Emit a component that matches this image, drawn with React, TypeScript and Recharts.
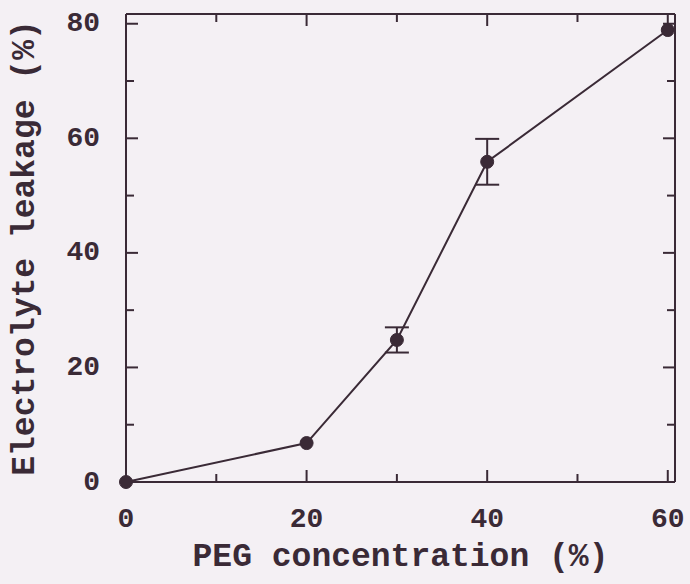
import { ComposedChart, Line, XAxis, YAxis, ErrorBar } from 'recharts';

const pegConcentration = [0, 20, 30, 40, 60];
const leakage = [0, 6.8, 24.8, 55.9, 78.9];
const leakageError = [0, 0, 2.2, 4, 0];

const xMajorTicks = [0, 20, 40, 60];
const xAllTicks = [0, 10, 20, 30, 40, 50, 60];
const yMajorTicks = [0, 20, 40, 60, 80];
const yAllTicks = [0, 10, 20, 30, 40, 50, 60, 70, 80];

const data = pegConcentration.map((x, i) => ({ x, y: leakage[i], err: leakageError[i] }));

const INK = '#3a2a36';
const FONT = '"Liberation Mono", "DejaVu Sans Mono", monospace';

function BottomTick({ x, y, payload }: any) {
  const major = xMajorTicks.includes(payload.value);
  return (
    <g>
      <line x1={x} x2={x} y1={y} y2={y - (major ? 12 : 8)} stroke={INK} strokeWidth={2} />
      {major && (
        <text x={x} y={y + 45} textAnchor="middle" fill={INK} fontFamily={FONT} fontWeight="bold" fontSize={28}>
          {payload.value}
        </text>
      )}
    </g>
  );
}

function TopTick({ x, y, payload }: any) {
  const major = xMajorTicks.includes(payload.value);
  return <line x1={x} x2={x} y1={y} y2={y + (major ? 12 : 8)} stroke={INK} strokeWidth={2} />;
}

function LeftTick({ x, y, payload }: any) {
  const major = yMajorTicks.includes(payload.value);
  return (
    <g>
      <line x1={x} x2={x + (major ? 12 : 8)} y1={y} y2={y} stroke={INK} strokeWidth={2} />
      {major && (
        <text x={x - 26} y={y} textAnchor="end" dominantBaseline="central" fill={INK} fontFamily={FONT} fontWeight="bold" fontSize={28}>
          {payload.value}
        </text>
      )}
    </g>
  );
}

function RightTick({ x, y, payload }: any) {
  const major = yMajorTicks.includes(payload.value);
  return <line x1={x} x2={x - (major ? 12 : 8)} y1={y} y2={y} stroke={INK} strokeWidth={2} />;
}

function YTitle({ viewBox }: any) {
  const cy = viewBox.y + viewBox.height / 2;
  return (
    <text x={25} y={cy} transform={`rotate(-90 25 ${cy})`} textAnchor="middle" dominantBaseline="central"
      fill={INK} fontFamily={FONT} fontWeight="bold" fontSize={33}>
      Electrolyte leakage (%)
    </text>
  );
}

function XTitle({ viewBox }: any) {
  return (
    <text x={viewBox.x + viewBox.width / 2} y={566} textAnchor="middle"
      fill={INK} fontFamily={FONT} fontWeight="bold" fontSize={33}>
      PEG concentration (%)
    </text>
  );
}

export default function App() {
  return (
    <div style={{ position: 'absolute', left: 0, top: 0, width: 690, height: 584, background: '#f4f0f4' }}>
      <ComposedChart width={690} height={584} data={data} margin={{ top: 13, right: 14, bottom: 0, left: 26 }}>
        <XAxis dataKey="x" type="number" domain={[0, 60.8]} ticks={xAllTicks} interval={0}
          height={102} tickSize={0} tickMargin={0} tickLine={false}
          axisLine={{ stroke: INK, strokeWidth: 2 }} tick={<BottomTick />} label={<XTitle />} />
        <XAxis xAxisId="top" orientation="top" dataKey="x" type="number" domain={[0, 60.8]} ticks={xAllTicks}
          interval={0} height={1} tickSize={0} tickMargin={0} tickLine={false}
          axisLine={{ stroke: INK, strokeWidth: 2 }} tick={<TopTick />} />
        <YAxis type="number" domain={[0, 81.7]} ticks={yAllTicks} interval={0} width={100}
          tickSize={0} tickMargin={0} tickLine={false}
          axisLine={{ stroke: INK, strokeWidth: 2 }} tick={<LeftTick />} label={<YTitle />} />
        <YAxis yAxisId="right" orientation="right" type="number" domain={[0, 81.7]} ticks={yAllTicks}
          interval={0} width={1} tickSize={0} tickMargin={0} tickLine={false}
          axisLine={{ stroke: INK, strokeWidth: 2 }} tick={<RightTick />} />
        {/* invisible series so the mirrored frame axes get their ticks */}
        <Line xAxisId="top" yAxisId="right" dataKey="y" stroke="none" dot={false} activeDot={false}
          isAnimationActive={false} />
        <Line dataKey="y" stroke={INK} strokeWidth={2} isAnimationActive={false}
          dot={{ r: 6.5, fill: INK, stroke: INK, strokeWidth: 1 }} activeDot={false}>
          <ErrorBar dataKey="err" width={12} stroke={INK} strokeWidth={2} direction="y" isAnimationActive={false} />
        </Line>
      </ComposedChart>
    </div>
  );
}
